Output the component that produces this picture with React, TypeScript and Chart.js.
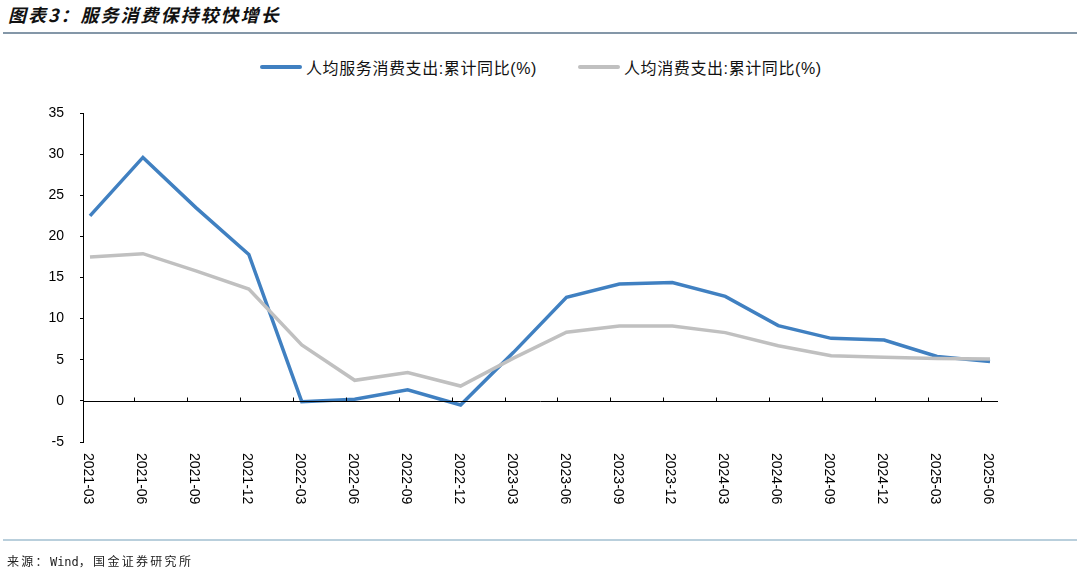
import React, { useEffect, useRef } from "react";
import { Chart, registerables } from "chart.js";

Chart.register(...registerables);

const categories = [
  "2021-03", "2021-06", "2021-09", "2021-12",
  "2022-03", "2022-06", "2022-09", "2022-12",
  "2023-03", "2023-06", "2023-09", "2023-12",
  "2024-03", "2024-06", "2024-09", "2024-12",
  "2025-03", "2025-06",
];

const serviceSpending = [
  22.5, 29.6, 23.5, 17.8,
  -0.1, 0.2, 1.35, -0.5,
  5.9, 12.6, 14.2, 14.4,
  12.7, 9.15, 7.6, 7.4,
  5.4, 4.8,
];

const totalSpending = [
  17.5, 17.9, 15.8, 13.6,
  6.8, 2.5, 3.45, 1.8,
  5.2, 8.35, 9.1, 9.1,
  8.3, 6.7, 5.5, 5.3,
  5.15, 5.1,
];

const seriesNames = ["人均服务消费支出:累计同比(%)", "人均消费支出:累计同比(%)"];
const seriesColors = ["#4080C1", "#C0C0C0"];
const yTicks = { min: -5, max: 35, step: 5 };

const titleText = "图表3：服务消费保持较快增长";
const sourceParts = ["来源：", "Wind", "，国金证券研究所"];

const latin = "'Liberation Sans', Arial, 'Noto Sans CJK SC', sans-serif";
const cjk = "'Liberation Sans', 'Noto Sans CJK SC', sans-serif";

const axisPlugin = {
  id: "customAxis",
  afterDatasetsDraw(chart: any) {
    const { ctx, chartArea, scales } = chart;
    const xs = scales.x;
    const ys = scales.y;
    const y0 = Math.round(ys.getPixelForValue(0)) + 0.5;
    ctx.save();
    ctx.strokeStyle = "#000";
    ctx.lineWidth = 1;
    ctx.beginPath();
    ctx.moveTo(chartArea.left, y0);
    ctx.lineTo(chartArea.right, y0);
    for (let i = 1; i < categories.length; i++) {
      const tx = Math.round(xs.getPixelForValue(i - 0.17)) + 0.5;
      ctx.moveTo(tx, y0);
      ctx.lineTo(tx, y0 - 4);
    }
    ctx.stroke();
    ctx.fillStyle = "#000";
    ctx.font = "14px " + latin;
    ctx.textAlign = "left";
    ctx.textBaseline = "middle";
    categories.forEach((lab, i) => {
      const px = xs.getPixelForValue(i) - 2;
      ctx.save();
      ctx.translate(px, chartArea.bottom + 11);
      ctx.rotate(Math.PI / 2);
      ctx.fillText(lab, 0, 0);
      ctx.restore();
    });
    ctx.restore();
  },
};

export default function App() {
  const canvasRef = useRef<HTMLCanvasElement | null>(null);

  useEffect(() => {
    if (!canvasRef.current) return;
    const chart = new Chart(canvasRef.current, {
      type: "line",
      data: {
        datasets: [
          {
            label: seriesNames[0],
            data: serviceSpending.map((v, i) => ({ x: i, y: v })),
            borderColor: seriesColors[0],
            backgroundColor: seriesColors[0],
            borderWidth: 3.5,
            pointRadius: 0,
            tension: 0,
            order: 1,
          },
          {
            label: seriesNames[1],
            data: totalSpending.map((v, i) => ({ x: i, y: v })),
            borderColor: seriesColors[1],
            backgroundColor: seriesColors[1],
            borderWidth: 3.5,
            pointRadius: 0,
            tension: 0,
            order: 0,
          },
        ],
      },
      options: {
        responsive: false,
        animation: false,
        layout: { padding: { top: 113, right: 82, left: 0, bottom: 0 } },
        plugins: { legend: { display: false }, tooltip: { enabled: false } },
        scales: {
          x: {
            type: "linear",
            min: -0.132,
            max: 17.151,
            grid: { display: false },
            border: { display: false },
            ticks: { display: false },
            afterFit: (s: any) => {
              s.height = 126;
            },
          },
          y: {
            min: yTicks.min,
            max: yTicks.max,
            ticks: {
              stepSize: yTicks.step,
              color: "#000",
              padding: 16,
              font: { family: latin, size: 14 },
            },
            grid: {
              drawOnChartArea: false,
              drawTicks: true,
              tickLength: 3,
              color: "#000",
            },
            border: { display: true, color: "#000", width: 1 },
            afterFit: (s: any) => {
              s.width = 83;
            },
          },
        },
      },
      plugins: [axisPlugin],
    });
    return () => chart.destroy();
  }, []);

  const legendItem = (i: number, left: number) => (
    <div
      key={i}
      style={{
        position: "absolute",
        left,
        top: 57,
        height: 20,
        display: "flex",
        alignItems: "center",
        whiteSpace: "nowrap",
      }}
    >
      <div
        style={{
          width: 42,
          height: 4,
          borderRadius: 2,
          background: seriesColors[i],
          marginRight: 4,
        }}
      />
      <span style={{ fontFamily: cjk, fontSize: 16, color: "#111", letterSpacing: 0.6 }}>
        {seriesNames[i]}
      </span>
    </div>
  );

  return (
    <div
      style={{
        position: "fixed",
        left: 0,
        top: 0,
        width: 1080,
        height: 568,
        background: "#fff",
        overflow: "hidden",
      }}
    >
      <div
        style={{
          position: "absolute",
          left: 8,
          top: 3,
          lineHeight: "22px",
          fontFamily: "'Noto Sans CJK SC', sans-serif",
          fontSize: 18,
          fontWeight: 700,
          fontStyle: "italic",
          letterSpacing: 2,
          color: "#111",
          whiteSpace: "nowrap",
        }}
      >
        {titleText}
      </div>
      <div
        style={{
          position: "absolute",
          left: 3,
          width: 1074,
          top: 32,
          height: 1.5,
          background: "#8497A8",
        }}
      />
      {legendItem(0, 260)}
      {legendItem(1, 578)}
      <canvas
        ref={canvasRef}
        width={1080}
        height={568}
        style={{ position: "absolute", left: 0, top: 0, width: 1080, height: 568 }}
      />
      <div
        style={{
          position: "absolute",
          left: 3,
          width: 1074,
          top: 539,
          height: 2,
          background: "#B9CFDC",
        }}
      />
      <div
        style={{
          position: "absolute",
          left: 7,
          top: 553,
          lineHeight: "16px",
          fontFamily: "'Noto Sans CJK SC', monospace",
          fontSize: 12,
          letterSpacing: 2.3,
          color: "#222",
          whiteSpace: "nowrap",
        }}
      >
        {sourceParts[0]}
        <span style={{ fontFamily: "'DejaVu Sans Mono', monospace", letterSpacing: 0 }}>
          {sourceParts[1]}
        </span>
        {sourceParts[2]}
      </div>
    </div>
  );
}
